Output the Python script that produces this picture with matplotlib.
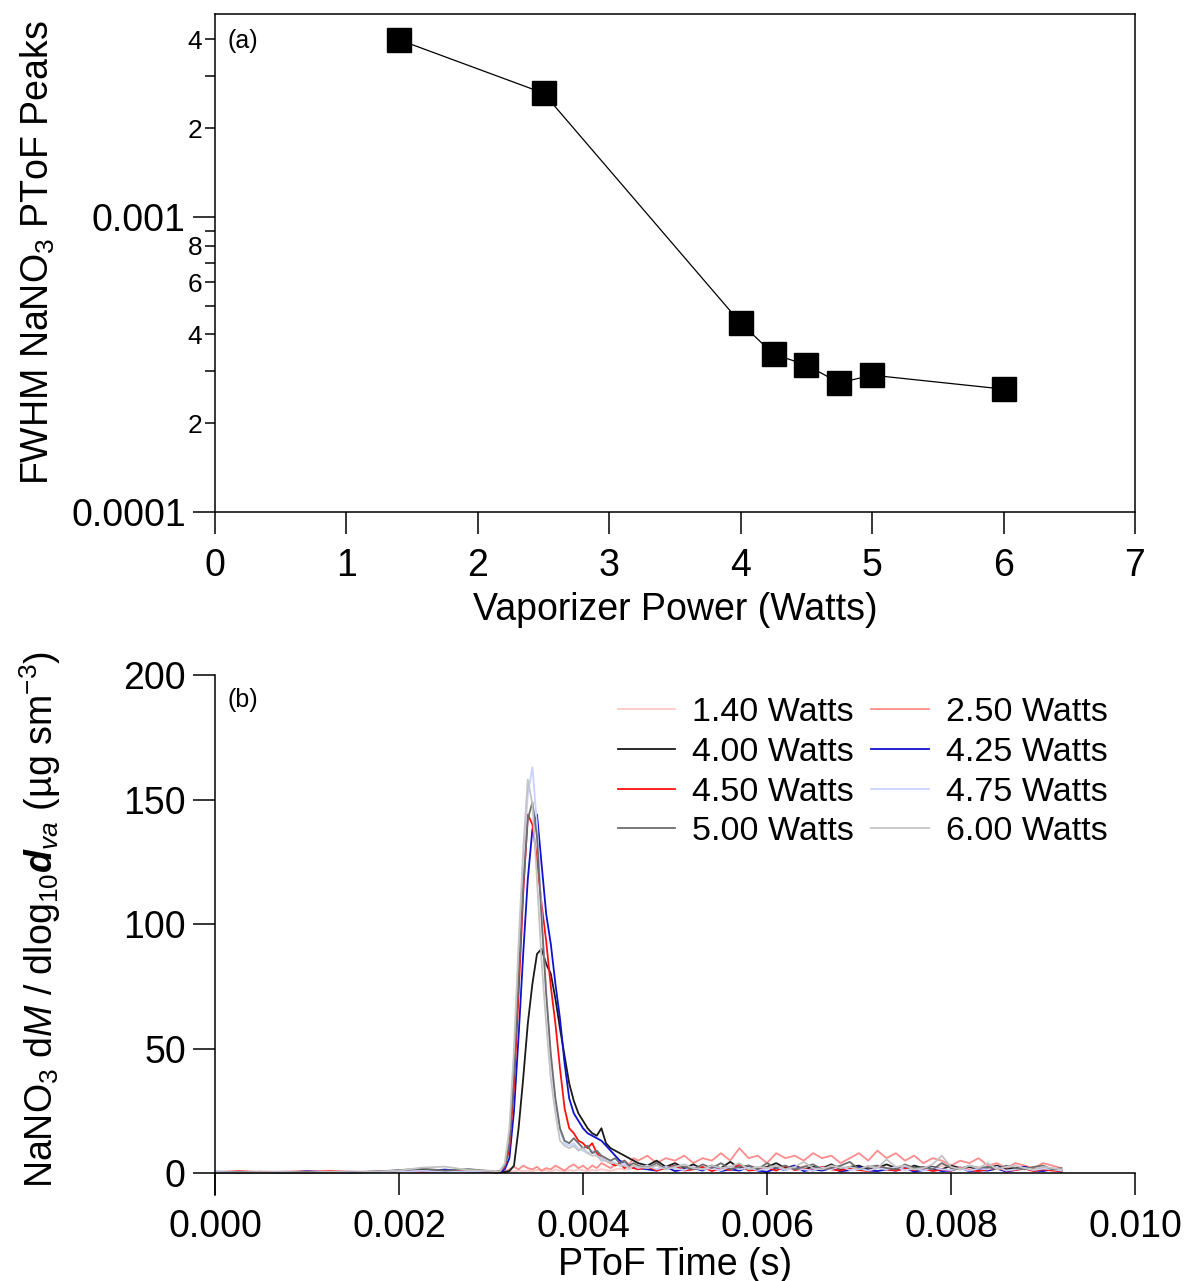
import numpy as np
import matplotlib
matplotlib.use("Agg")
import matplotlib.pyplot as plt
from matplotlib.ticker import FixedLocator, FuncFormatter, FormatStrFormatter

plt.rcParams['font.family'] = ['Liberation Sans', 'DejaVu Sans']
plt.rcParams['mathtext.fontset'] = 'custom'
plt.rcParams['mathtext.rm'] = 'Liberation Sans'
plt.rcParams['mathtext.it'] = 'Liberation Sans:italic'
plt.rcParams['mathtext.bf'] = 'Liberation Sans:bold'
plt.rcParams['mathtext.bfit'] = 'Liberation Sans:italic:bold'

# --- panel (a): FWHM of the NaNO3 PToF peaks vs vaporizer power ---
power_w = [1.40, 2.50, 4.00, 4.25, 4.50, 4.75, 5.00, 6.00]
fwhm_s = [0.00399, 0.00263, 0.000437, 0.000343, 0.000315, 0.000274, 0.000291, 0.000261]

# --- panel (b): PToF traces ---
# time grid: baseline (0-3 ms), peak region (3.05-4.55 ms), tail (4.6-9.2 ms)
time_s = np.concatenate([np.linspace(0, 0.003, 13),
                         np.linspace(0.00305, 0.00455, 31),
                         np.linspace(0.0046, 0.0092, 47)])

trace_140 = [0.5, 0.3, 0.8, 0.4, 0.6, 0.2, 0.7, 0.5, 0.9, 0.4, 0.6, 1.0, 0.5,
             0.4, 0.8, 0.5, 0.9, 0.6, 1.2, 0.8, 1.0, 0.7, 1.3, 0.9, 1.1, 0.6, 1.4, 1.0, 0.8,
             1.2, 0.9, 1.5, 1.1, 0.8, 1.3, 1.0, 1.6, 1.2, 0.9, 1.4, 1.8, 1.3, 1.6, 2.0,
             1.5, 2.2, 1.4, 2.5, 1.8, 2.8, 2.0, 1.6, 2.4, 1.9, 2.7, 2.1, 3.0, 2.2, 1.8, 2.6,
             2.3, 1.9, 2.8, 2.4, 2.0, 2.6, 1.8, 2.3, 2.9, 2.1, 2.5, 1.9, 2.2, 2.7, 2.0, 1.7,
             2.4, 2.8, 3.2, 2.2, 1.9, 2.5, 2.1, 1.6, 2.4, 2.0, 2.6, 1.8, 2.2, 1.9, 1.5]
trace_250 = [0.4, 0.8, 0.3, 0.6, 0.9, 0.5, 0.3, 0.7, 0.6, 1.2, 0.8, 0.5, 0.9,
             0.5, 1, 0.5, 1.5, 2.5, 1.5, 3, 2, 1.5, 2.5, 1, 2, 1.5, 3, 2, 1,
             2.5, 3.5, 2, 3, 1.5, 3, 2, 4, 3, 2, 3.5, 4, 5, 3.5, 6,
             5, 7, 4, 6, 5, 7, 4, 6, 5, 8, 5, 10, 6, 7, 4, 8,
             6, 7, 5, 8, 6, 7, 4, 6, 8, 5, 9, 6, 8, 5, 7, 4,
             6, 5, 3, 5, 4, 6, 3, 4, 2, 4, 3, 2, 4, 3, 2]
trace_400 = [0.2, 0.1, 0.3, 0.2, 0.1, 0.3, 0.2, 0.4, 0.8, 1.5, 0.9, 1.2, 0.6,
             0.2, 0.3, 0.5, 0.8, 3, 18, 38, 60, 76, 88, 90, 84, 80, 70, 58, 47,
             36, 29, 24, 21, 18, 16, 15, 18, 12, 10, 9, 8, 7, 6, 5,
             4, 3, 5, 2.5, 4, 2, 3.5, 1.5, 3, 2, 4.5, 2, 3, 1.5, 2.5, 4,
             2, 3, 1.5, 2.5, 2, 3.5, 1.5, 2.5, 3, 1.5, 2, 3.5, 2, 1.5, 3, 2,
             2.5, 1.5, 3, 2, 2.5, 1.5, 2, 3, 1.5, 2, 2.5, 1.5, 2, 1.5, 1]
trace_425 = [0.6, 0.3, 0.5, 0.2, 0.7, 0.4, 0.3, 0.6, 1.0, 0.8, 1.4, 0.7, 0.5,
             0.3, 0.5, 1.5, 6, 25, 55, 88, 118, 138, 144, 124, 104, 92, 76, 62, 44,
             30, 24, 21, 18, 16, 15, 14, 13, 11, 9, 7, 5, 4, 3, 2,
             2, 1.5, 1, 2.5, 0.8, 1.5, 2, 1, 3, 0.8, 1.5, 1, 2.5, 1, 0.5, 2,
             1.2, 3, 0.8, 1.5, 1, 2, 0.7, 1.2, 2.5, 1, 0.8, 1.5, 1, 2, 0.6, 1.2,
             1.8, 0.8, 1, 2.2, 0.7, 1.2, 1, 1.8, 0.6, 1.2, 2.5, 1, 0.8, 1.5, 0.5]
trace_450 = [0.3, 0.7, 0.4, 0.5, 0.3, 0.8, 0.5, 0.4, 0.9, 0.6, 0.7, 1.1, 0.4,
             0.3, 0.8, 2.5, 10, 35, 72, 112, 144, 140, 126, 108, 93, 75, 60, 42, 26,
             18, 16, 13, 12, 10, 12, 8, 6, 5, 4, 3, 4, 2, 3, 2,
             1.5, 2.5, 1, 2, 3, 1, 1.5, 2.5, 0.8, 2, 1.2, 3.5, 1, 1.5, 2.2, 1,
             2.8, 1.2, 1.8, 1, 2.5, 1.5, 1, 2, 1.2, 0.8, 2.2, 1.5, 1, 1.8, 1.2, 2,
             0.8, 1.5, 1, 2.2, 1.2, 0.8, 1.5, 2, 1, 1.2, 1.8, 0.8, 1.5, 1, 0.8]
trace_475 = [0.8, 0.5, 0.3, 0.6, 0.4, 0.5, 0.7, 0.3, 0.6, 0.9, 0.5, 0.8, 0.6,
             0.5, 1, 3.5, 15, 45, 85, 125, 152, 163, 140, 105, 72, 45, 28, 17, 12,
             11, 12, 10, 9, 8, 9, 7, 6, 5, 5, 4, 3, 4, 2, 3,
             2, 3, 1.5, 2.5, 1.8, 1.2, 2.5, 1.5, 2, 1, 2.8, 1.5, 2.2, 1.2, 1.8, 2.5,
             1.2, 2, 1.5, 1, 2.2, 1.5, 2.8, 1.2, 1.8, 1, 2, 1.5, 2.5, 1.2, 1.8, 1,
             2.2, 1.5, 1.2, 2, 1, 1.8, 1.5, 2.5, 1, 1.5, 2, 1.2, 1.8, 1.5, 1]
trace_500 = [0.2, 0.4, 0.3, 0.2, 0.5, 0.3, 0.4, 0.6, 1.2, 1.8, 1.0, 1.6, 0.8,
             0.5, 1, 3, 12, 40, 78, 115, 142, 149, 135, 102, 72, 48, 30, 18, 13,
             12, 14, 12, 10, 11, 8, 9, 7, 6, 5, 6, 4, 5, 3, 4,
             3, 2, 4, 1.5, 3, 2.5, 1.5, 3.5, 2, 4, 1.5, 2.5, 3, 1.5, 4, 2,
             3, 1.5, 2.5, 3.5, 1.5, 2, 3, 4.5, 1.5, 2.5, 3, 2, 1.5, 3.5, 2, 2.5,
             1.5, 4, 2, 1.5, 3, 2, 2.5, 1.5, 3, 2, 1.5, 2.5, 3, 1.5, 2]
trace_600 = [0.3, 0.2, 0.4, 0.3, 0.2, 0.5, 0.3, 0.6, 1.0, 2.2, 2.6, 1.2, 0.9,
             0.5, 0.8, 4, 18, 50, 92, 130, 158, 148, 118, 85, 60, 38, 24, 13, 11,
             10, 11, 9, 10, 8, 7, 7, 5, 5, 4, 4, 3, 3, 2, 3,
             2.5, 2, 3, 1.5, 2.5, 3.5, 2, 1.5, 3, 2, 2.5, 4, 1.5, 2.5, 2, 3,
             1.5, 2.5, 4.5, 2, 1.5, 3, 2, 2.5, 1.5, 3, 2, 5.5, 2.5, 3, 1.5, 2,
             3.5, 7, 2.5, 1.5, 3, 2, 4, 1.5, 2.5, 3, 2, 1.5, 2.5, 2, 1.5]

trace_labels = ['1.40 Watts', '2.50 Watts', '4.00 Watts', '4.25 Watts',
                '4.50 Watts', '4.75 Watts', '5.00 Watts', '6.00 Watts']
trace_colors = ['#ffc8c8', '#ff8c8c', '#1a1a1a', '#1010d0',
                '#ff1010', '#c8d2ff', '#6e6e6e', '#c4c4c4']
traces = [trace_140, trace_250, trace_400, trace_425,
          trace_450, trace_475, trace_500, trace_600]

fig = plt.figure(figsize=(11.85, 12.81), dpi=100)
W, H = 1185, 1281

def frac(x0, y0, x1, y1):
    return [x0 / W, 1 - y1 / H, (x1 - x0) / W, (y1 - y0) / H]

# ---------------- panel (a) ----------------
ax1 = fig.add_axes(frac(215, 14, 1135, 512))
ax1.plot(power_w, fwhm_s, color='black', lw=0.9, marker='s', ms=17,
         mfc='black', mec='black')
ax1.set_yscale('log')
ax1.set_xlim(0, 7)
ax1.set_ylim(1e-4, 4.88e-3)
ax1.set_xticks(range(8))
ax1.yaxis.set_major_locator(FixedLocator([1e-4, 1e-3]))
ax1.yaxis.set_major_formatter(FuncFormatter(lambda v, p: '0.0001' if v < 5e-4 else '0.001'))
minors = [m * 1e-4 for m in range(2, 10)] + [m * 1e-3 for m in range(2, 5)]
ax1.yaxis.set_minor_locator(FixedLocator(minors))

def minor_lab(v, p):
    m = int(round(v / 10 ** np.floor(np.log10(v) + 1e-9)))
    return str(m) if m % 2 == 0 else ''

ax1.yaxis.set_minor_formatter(FuncFormatter(minor_lab))
ax1.tick_params(axis='both', which='major', direction='out', length=16, width=1.1,
                labelsize=27, pad=5)
ax1.tick_params(axis='x', which='major', pad=10)
ax1.tick_params(axis='y', which='minor', direction='out', length=7, width=1.1,
                labelsize=19, pad=2)
ax1.tick_params(axis='x', which='minor', bottom=False)
for s in ax1.spines.values():
    s.set_linewidth(1.1)
ax1.set_xlabel('Vaporizer Power (Watts)', fontsize=27)
ax1.xaxis.set_label_coords(0.5, -0.16)
ax1.set_ylabel('FWHM NaNO$_3$ PToF Peaks', fontsize=27)
ax1.yaxis.set_label_coords(-0.172, 0.52)
ax1.text(0.014, 0.946, '(a)', transform=ax1.transAxes, fontsize=18, va='center')

# ---------------- panel (b) ----------------
ax2 = fig.add_axes(frac(215, 675, 1135, 1195))
lines = []
for vals, lab, col in zip(traces, trace_labels, trace_colors):
    ln, = ax2.plot(time_s, vals, color=col, lw=1.3, label=lab)
    lines.append(ln)
ax2.set_xlim(0, 0.010)
ax2.set_ylim(-8.8, 200)
ax2.set_xticks(np.arange(0, 0.0101, 0.002))
ax2.xaxis.set_major_formatter(FormatStrFormatter('%.3f'))
ax2.set_yticks([0, 50, 100, 150, 200])
ax2.spines['bottom'].set_position(('data', 0))
ax2.spines['top'].set_visible(False)
ax2.spines['right'].set_visible(False)
for s in ax2.spines.values():
    s.set_linewidth(1.1)
ax2.tick_params(axis='both', which='major', direction='out', length=16, width=1.1,
                labelsize=27, pad=5)
ax2.tick_params(axis='x', which='major', pad=10)
ax2.set_xlabel('PToF Time (s)', fontsize=27, labelpad=0)
ax2.xaxis.set_label_coords(0.5, -0.1)
ax2.set_ylabel(r'NaNO$_3$ d$M$ / dlog$_{10}$$\mathbfit{d}_{va}$ (µg sm$^{-3}$)', fontsize=27)
ax2.yaxis.set_label_coords(-0.165, 0.53)
ax2.text(0.014, 0.952, '(b)', transform=ax2.transAxes, fontsize=18, va='center')

order = [0, 2, 4, 6, 1, 3, 5, 7]
ax2.legend([lines[i] for i in order], [trace_labels[i] for i in order],
           ncol=2, loc='upper right', bbox_to_anchor=(0.9707, 0.958),
           frameon=False, fontsize=24.5, handlelength=1.7, handletextpad=0.5,
           columnspacing=0.5, labelspacing=0.26, borderpad=0, borderaxespad=0)

fig.savefig('out.png', dpi=100)
